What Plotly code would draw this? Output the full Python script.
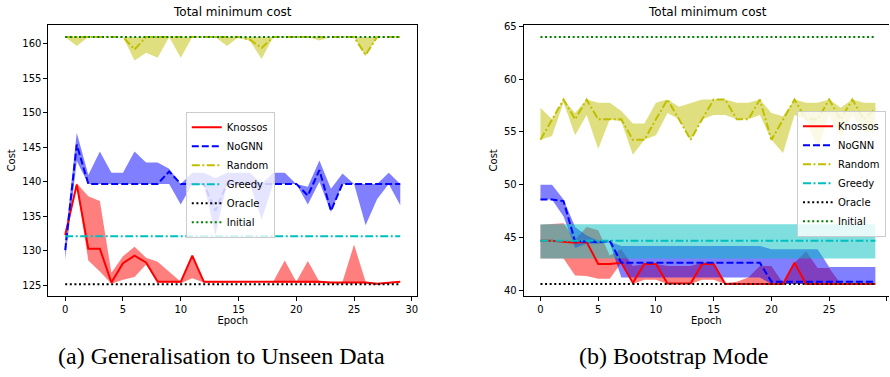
import plotly.graph_objects as go

W, H = 890, 377

epochs = list(range(30))

# ---------------- (a) Generalisation to Unseen Data ----------------
initial_a = 161.0
greedy_a = 132.1
oracle_a = 125.15

random_a_mean = [161, 161, 161, 161, 161, 161, 159.2, 161, 161, 161, 161, 161, 161, 161, 161,
                 161, 160.6, 159.4, 161, 161, 161, 161, 161, 161, 161, 161, 158.4, 161, 161, 161]
random_a_upper = [161] * 30
random_a_lower = [161, 159.7, 161, 161, 161, 161, 157.6, 158.7, 158.0, 161, 158.0, 161, 161, 161, 159.7,
                  161, 160.4, 157.8, 161, 161, 161, 161, 160.5, 161, 161, 161, 158.2, 161, 161, 161]

nognn_a_mean = [130.1, 145.4, 139.7, 139.7, 139.7, 139.7, 139.7, 139.7, 139.7, 141.5, 139.7, 139.7, 139.7, 135.8, 139.7,
                139.7, 139.7, 139.7, 139.7, 139.7, 139.7, 138.0, 141.7, 135.8, 139.7, 139.7, 139.7, 139.7, 139.7, 139.7]
nognn_a_upper = [131.5, 147.1, 141.0, 144.4, 141.3, 141.3, 144.4, 142.8, 142.8, 141.9, 139.7, 141.3, 141.3, 140.5, 141.3,
                 141.3, 141.3, 139.7, 141.3, 141.3, 139.7, 139.3, 143.1, 139.0, 141.2, 139.7, 139.7, 139.7, 141.3, 139.7]
nognn_a_lower = [128.7, 143.0, 139.7, 139.7, 139.7, 139.7, 139.7, 139.7, 139.7, 139.7, 136.7, 139.7, 139.7, 132.3, 139.7,
                 139.7, 139.7, 134.5, 139.7, 139.7, 139.7, 136.7, 140.0, 135.6, 139.7, 139.7, 133.7, 137.5, 139.7, 136.6]

knossos_a_mean = [132.3, 139.6, 130.3, 130.3, 125.4, 128.2, 129.3, 128.3, 125.5, 125.5, 125.5, 129.3, 125.5, 125.5, 125.5,
                  125.5, 125.5, 125.6, 125.5, 125.5, 125.5, 125.5, 125.5, 125.4, 125.4, 125.5, 125.4, 125.2, 125.4, 125.5]
knossos_a_upper = [132.3, 139.8, 137.9, 137.2, 126.8, 129.2, 130.6, 129.0, 128.4, 127.0, 125.5, 129.3, 125.5, 125.5, 125.5,
                   125.5, 125.5, 125.6, 125.5, 128.6, 125.5, 128.5, 125.5, 125.4, 125.5, 130.9, 125.5, 125.3, 125.4, 125.5]
knossos_a_lower = [132.0, 139.4, 128.6, 127.0, 125.2, 125.8, 126.2, 128.0, 125.4, 125.4, 125.3, 126.0, 125.4, 125.4, 125.4,
                   125.4, 125.4, 125.5, 125.4, 125.4, 125.4, 125.4, 125.4, 125.3, 125.3, 125.4, 125.3, 125.1, 125.3, 125.4]

# ---------------- (b) Bootstrap Mode ----------------
initial_b = 64.0
oracle_b = 40.6
greedy_b_mean = 44.7
greedy_b_upper = 46.25
greedy_b_lower = 43.0

random_b_mean = [54.26, 56.2, 58.07, 56.2, 58.07, 56.2, 56.2, 56.2, 54.26, 54.26, 56.2, 58.07, 56.2, 54.26, 56.2,
                 58.07, 58.07, 56.2, 56.2, 58.07, 54.26, 56.2, 58.07, 56.2, 56.2, 58.07, 56.2, 58.07, 56.2, 57.2]
random_b_upper = [57.3, 56.2, 58.07, 56.8, 58.07, 57.76, 57.76, 57.0, 55.8, 55.8, 57.76, 58.07, 57.4, 57.7, 58.07,
                  58.07, 58.07, 57.76, 57.76, 58.07, 56.8, 56.5, 58.07, 57.76, 57.76, 58.07, 57.3, 58.07, 57.76, 57.76]
random_b_lower = [54.26, 54.63, 57.8, 54.7, 56.6, 53.4, 56.2, 56.0, 52.85, 54.26, 54.7, 56.8, 56.2, 54.26, 56.2,
                  56.6, 56.6, 56.2, 56.2, 56.6, 54.26, 53.0, 56.6, 56.2, 53.4, 56.6, 54.5, 56.6, 55.0, 55.0]

nognn_b_mean = [48.6, 48.6, 48.45, 44.63, 44.63, 44.57, 44.7, 42.6, 42.6, 42.6, 42.6, 42.6, 42.6, 42.6, 42.6,
                42.6, 42.6, 42.6, 42.6, 42.6, 40.82, 40.82, 40.82, 40.82, 40.82, 40.82, 40.82, 40.82, 40.82, 40.82]
nognn_b_upper = [50.0, 50.0, 48.6, 46.0, 45.2, 44.7, 44.6, 44.2, 44.2, 44.2, 44.2, 44.2, 44.2, 44.2, 44.2,
                 44.2, 44.2, 44.2, 44.2, 44.2, 43.9, 43.9, 43.9, 43.9, 43.9, 42.2, 42.2, 42.2, 42.2, 42.2]
nognn_b_lower = [48.6, 48.6, 47.0, 44.0, 44.4, 44.4, 44.5, 41.2, 41.2, 41.2, 41.2, 41.2, 41.2, 41.2, 41.2,
                 41.2, 41.2, 41.2, 41.2, 41.2, 40.6, 40.6, 40.6, 40.6, 40.6, 40.6, 40.6, 40.6, 40.6, 40.6]

knossos_b_mean = [44.7, 44.7, 44.6, 44.5, 44.57, 42.5, 42.5, 42.6, 40.7, 42.5, 42.5, 40.65, 40.65, 40.65, 42.5,
                  42.5, 40.6, 40.6, 40.6, 40.6, 40.6, 40.6, 42.6, 40.6, 40.6, 40.6, 40.6, 40.6, 40.6, 40.6]
knossos_b_upper = [46.2, 46.3, 46.35, 44.8, 46.0, 45.7, 43.3, 43.9, 42.3, 42.5, 42.5, 42.3, 42.3, 42.3, 42.6,
                   42.6, 40.7, 40.8, 41.2, 42.3, 42.3, 40.7, 42.6, 43.7, 42.1, 42.1, 40.6, 40.6, 40.6, 40.6]
knossos_b_lower = [43.0, 43.0, 43.0, 41.4, 41.35, 41.1, 41.1, 42.6, 40.6, 41.0, 41.0, 40.6, 40.6, 40.6, 41.0,
                   41.0, 40.6, 40.6, 40.6, 40.6, 40.6, 40.6, 40.6, 40.6, 40.6, 40.6, 40.6, 40.6, 40.6, 40.6]

colors = {"Knossos": "#ff0000", "NoGNN": "#0000ff", "Random": "#bfbf00",
          "Greedy": "#00bfbf", "Oracle": "#000000", "Initial": "#008000"}
fills = {"Knossos": "rgba(255,0,0,0.5)", "NoGNN": "rgba(0,0,255,0.5)",
         "Random": "rgba(191,191,0,0.5)", "Greedy": "rgba(0,191,191,0.5)"}
dashes = {"Knossos": "solid", "NoGNN": "7px,3px", "Random": "8px,2.5px,2px,2.5px",
          "Greedy": "8px,2.5px,2px,2.5px", "Oracle": "2px,2.6px", "Initial": "2px,2.6px"}

FONT = "DejaVu Sans"
fig = go.Figure()

def const(v):
    return [v] * len(epochs)

def add_band(name, lower, upper, xa, ya):
    fig.add_trace(go.Scatter(x=epochs + epochs[::-1], y=list(upper) + list(lower)[::-1],
                             mode="lines", line=dict(width=0, color=colors[name]),
                             fill="toself", fillcolor=fills[name],
                             showlegend=False, hoverinfo="skip", xaxis=xa, yaxis=ya))

def add_line(name, ys, xa, ya, leg):
    fig.add_trace(go.Scatter(x=epochs, y=ys, mode="lines", name=name,
                             line=dict(color=colors[name], width=2, dash=dashes[name]),
                             xaxis=xa, yaxis=ya, legend=leg))

# Panel (a)
add_band("Knossos", knossos_a_lower, knossos_a_upper, "x", "y")
add_band("NoGNN", nognn_a_lower, nognn_a_upper, "x", "y")
add_band("Random", random_a_lower, random_a_upper, "x", "y")
add_line("Knossos", knossos_a_mean, "x", "y", "legend")
add_line("NoGNN", nognn_a_mean, "x", "y", "legend")
add_line("Random", random_a_mean, "x", "y", "legend")
add_line("Greedy", const(greedy_a), "x", "y", "legend")
add_line("Oracle", const(oracle_a), "x", "y", "legend")
add_line("Initial", const(initial_a), "x", "y", "legend")

# Panel (b)
add_band("Knossos", knossos_b_lower, knossos_b_upper, "x2", "y2")
add_band("NoGNN", nognn_b_lower, nognn_b_upper, "x2", "y2")
add_band("Random", random_b_lower, random_b_upper, "x2", "y2")
add_band("Greedy", const(greedy_b_lower), const(greedy_b_upper), "x2", "y2")
add_line("Knossos", knossos_b_mean, "x2", "y2", "legend2")
add_line("NoGNN", nognn_b_mean, "x2", "y2", "legend2")
add_line("Random", random_b_mean, "x2", "y2", "legend2")
add_line("Greedy", const(greedy_b_mean), "x2", "y2", "legend2")
add_line("Oracle", const(oracle_b), "x2", "y2", "legend2")
add_line("Initial", const(initial_b), "x2", "y2", "legend2")

tickfont = dict(family=FONT, size=10, color="black")
titlefont = dict(family=FONT, size=10, color="black")

def xax(domain, rng, anchor):
    return dict(domain=domain, range=rng, anchor=anchor, showgrid=False, zeroline=False,
                showline=True, linecolor="black", linewidth=1, mirror=True,
                ticks="outside", ticklen=4, tickcolor="black", tickwidth=1,
                tickvals=[0, 5, 10, 15, 20, 25, 30], tickfont=tickfont,
                title=dict(text="Epoch", font=titlefont, standoff=3))

def yax(domain, rng, anchor, tv, mirror):
    return dict(domain=domain, range=rng, anchor=anchor, showgrid=False, zeroline=False,
                showline=True, linecolor="black", linewidth=1, mirror=mirror,
                ticks="outside", ticklen=4, tickcolor="black", tickwidth=1,
                tickvals=tv, tickfont=tickfont,
                title=dict(text="Cost", font=titlefont, standoff=4))

ydom = [82 / H, 356 / H]
legstyle = dict(bgcolor="rgba(255,255,255,0.8)", bordercolor="#cccccc", borderwidth=1,
                font=dict(family=FONT, size=10, color="black"), yanchor="top",
                traceorder="normal", tracegroupgap=0, itemwidth=30)

fig.update_layout(
    width=W, height=H, margin=dict(l=0, r=0, t=0, b=0),
    paper_bgcolor="white", plot_bgcolor="white",
    xaxis=xax([48.5 / W, 417.5 / W], [-1.45, 30.45], "y"),
    yaxis=yax(ydom, [123.46, 162.77], "x", [125, 130, 135, 140, 145, 150, 155, 160], True),
    xaxis2=xax([524.3 / W, 1.0], [-1.45, 30.18], "y2"),
    yaxis2=yax(ydom, [39.47, 65.16], "x2", [40, 45, 50, 55, 60, 65], False),
    legend=dict(x=186 / W, y=1 - 109 / H, xanchor="left", **legstyle),
    legend2=dict(x=887 / W, y=1 - 108 / H, xanchor="right", **legstyle),
    annotations=[
        dict(text="Total minimum cost", x=233 / W, y=1 - 8 / H, xref="paper", yref="paper",
             showarrow=False, xanchor="center", yanchor="middle",
             font=dict(family=FONT, size=12, color="black")),
        dict(text="Total minimum cost", x=708.5 / W, y=1 - 8 / H, xref="paper", yref="paper",
             showarrow=False, xanchor="center", yanchor="middle",
             font=dict(family=FONT, size=12, color="black")),
        dict(text="(a) Generalisation to Unseen Data", x=222 / W, y=1 - 356 / H, xref="paper", yref="paper",
             showarrow=False, xanchor="center", yanchor="middle",
             font=dict(family="Liberation Serif", size=24, color="black")),
        dict(text="(b) Bootstrap Mode", x=674 / W, y=1 - 356 / H, xref="paper", yref="paper",
             showarrow=False, xanchor="center", yanchor="middle",
             font=dict(family="Liberation Serif", size=24, color="black")),
    ],
)

fig.write_html("out.html", config={"displayModeBar": False},
               post_script="document.body.style.margin='0px';")
